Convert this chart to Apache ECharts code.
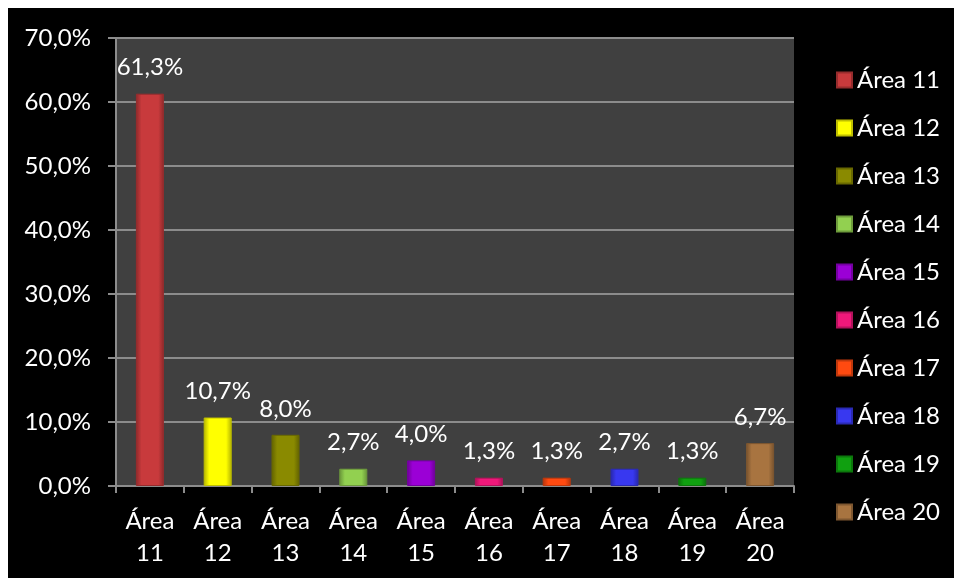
<!DOCTYPE html>
<html>
<head>
<meta charset="utf-8">
<script src="https://cdn.jsdelivr.net/npm/echarts@6/dist/echarts.min.js"></script>
<style>
html,body{margin:0;padding:0;background:#fff;width:957px;height:578px;overflow:hidden;}
#chart{position:absolute;left:8px;top:8px;width:946px;height:570px;background:#000;}
</style>
</head>
<body>
<div id="chart"></div>
<script>
const categories = ['Área 11','Área 12','Área 13','Área 14','Área 15','Área 16','Área 17','Área 18','Área 19','Área 20'];
const values = [61.3, 10.7, 8.0, 2.7, 4.0, 1.3, 1.3, 2.7, 1.3, 6.7];
const colors = ['#c83a3c','#ffff00','#8a8a00','#92d050','#9b00d6','#f0187a','#ff4a10','#3838f0','#10a010','#a87440'];
const yTicks = [0,10,20,30,40,50,60,70];

const FONT = 'Lato';
const FS = 24;
function shade(hex, f){
  const n = parseInt(hex.slice(1),16);
  let r=(n>>16)&255,g=(n>>8)&255,b=n&255;
  if(f<0){r=Math.round(r*(1+f));g=Math.round(g*(1+f));b=Math.round(b*(1+f));}
  else{r=Math.round(r+(255-r)*f);g=Math.round(g+(255-g)*f);b=Math.round(b+(255-b)*f);}
  return 'rgb('+r+','+g+','+b+')';
}
const fmt = v => v.toFixed(1).replace('.', ',') + '%';

const chart = echarts.init(document.getElementById('chart'), null, {renderer:'canvas'});
const series = categories.map((name, i) => ({
  name: name,
  type: 'bar',
  stack: 'all',
  barWidth: 28,
  data: categories.map((c, j) => j === i ? values[i] : '-'),
  itemStyle: {
    color: new echarts.graphic.LinearGradient(0,0,1,0,[
      {offset:0, color: shade(colors[i], -0.3)},
      {offset:0.2, color: colors[i]},
      {offset:0.8, color: colors[i]},
      {offset:1, color: shade(colors[i], -0.3)}
    ]),
    borderColor: shade(colors[i], -0.25),
    borderWidth: 1
  },
  label: {
    show: true,
    position: 'top',
    distance: 14,
    color: '#fff',
    fontFamily: FONT,
    fontSize: FS,
    formatter: p => fmt(p.value)
  }
}));

chart.setOption({
  backgroundColor: '#000',
  animation: false,
  color: colors,
  grid: {left:108, top:30, right:160, bottom:92, show:true, backgroundColor:'#404040', borderWidth:0},
  legend: {
    orient: 'vertical',
    left: 828,
    top: 59,
    padding: 0,
    itemWidth: 15,
    itemHeight: 15,
    itemGap: 22,
    icon: 'rect',
    textStyle: {color:'#fff', fontFamily: FONT, fontSize: FS, lineHeight: 26},
    data: categories.map((c,i)=>({name:c, itemStyle:{color:colors[i]}}))
  },
  xAxis: {
    type: 'category',
    data: categories,
    axisLine: {lineStyle:{color:'#8c8c8c', width:2}},
    axisTick: {show:true, length:7, interval:0, lineStyle:{color:'#8c8c8c', width:2}},
    axisLabel: {
      color:'#fff', fontFamily: FONT, fontSize: FS, lineHeight: 32, margin: 19, interval: 0,
      formatter: v => v.replace(' ', '\n')
    }
  },
  yAxis: {
    type: 'value',
    min: yTicks[0],
    max: yTicks[yTicks.length-1],
    interval: 10,
    axisLine: {show:true, lineStyle:{color:'#8c8c8c', width:2}},
    axisTick: {show:true, length:8, lineStyle:{color:'#8c8c8c', width:2}},
    splitLine: {lineStyle:{color:'#8c8c8c', width:2}},
    axisLabel: {color:'#fff', fontFamily: FONT, fontSize: FS, margin: 25, formatter: v => fmt(v)}
  },
  series: series
});
</script>
</body>
</html>
